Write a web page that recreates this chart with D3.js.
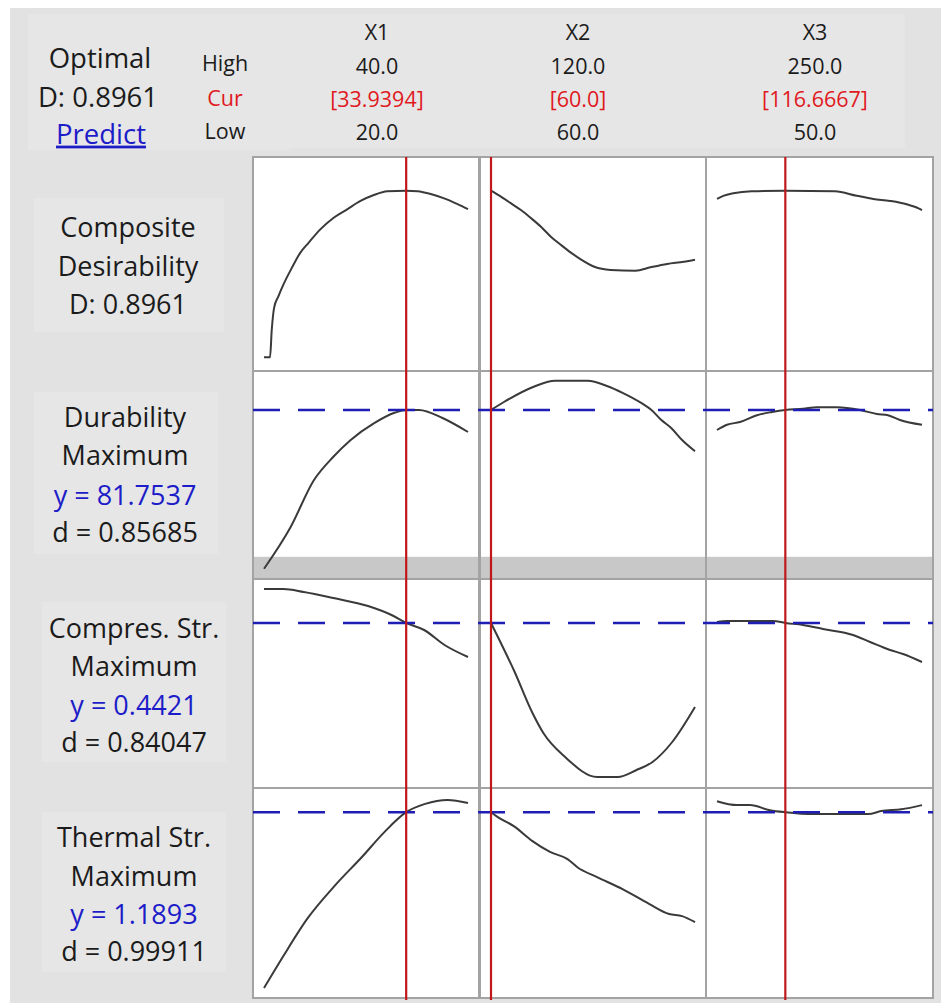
<!DOCTYPE html>
<html>
<head>
<meta charset="utf-8">
<script src="https://cdn.jsdelivr.net/npm/d3@7"></script>
<style>
  html, body { margin: 0; padding: 0; background: #ffffff; }
  svg { display: block; }
  text { font-family: "Open Sans", Lato, "Noto Sans", sans-serif; }
</style>
</head>
<body>
<div id="chart"></div>
<script>
// ---- Factors (columns) ----
const factorNames = ["X1", "X2", "X3"];
const factorLow = [20, 60, 50];
const factorHigh = [40, 120, 250];
const factorCur = [33.9394, 60, 116.6667];
const highLabels = ["40.0", "120.0", "250.0"];
const curLabels = ["[33.9394]", "[60.0]", "[116.6667]"];
const lowLabels = ["20.0", "60.0", "50.0"];

// ---- Responses (rows) ----
const responseTitles = [["Composite", "Desirability"], ["Durability"], ["Compres. Str."], ["Thermal Str."]];
const responseGoals = [null, "Maximum", "Maximum", "Maximum"];
const predictedY = [0.8961, 81.7537, 0.4421, 1.1893];
const individualD = [null, 0.85685, 0.84047, 0.99911];
const compositeD = 0.8961;
const durabilityLower = 63.4;

// Composite desirability traces
const compX1 = [[20, 0], [20.59, 0], [20.76, 0.148], [20.99, 0.266], [21.41, 0.328], [21.9, 0.391],
  [22.73, 0.481], [23.55, 0.562], [24.37, 0.616], [25.52, 0.688], [26.83, 0.751], [28.15, 0.796],
  [29.46, 0.841], [30.77, 0.873], [32.09, 0.893], [33.9394, 0.8961], [35.04, 0.893], [36.35, 0.878],
  [37.66, 0.855], [38.98, 0.824], [40, 0.797]];
const compX2 = [[60, 0.8961], [62.9, 0.864], [65.9, 0.828], [68.8, 0.792], [71.8, 0.748], [74.7, 0.702],
  [77.6, 0.649], [80.6, 0.604], [83.5, 0.563], [86.4, 0.527], [90.4, 0.487], [95.2, 0.47],
  [102.5, 0.466], [106.9, 0.484], [111.8, 0.502], [116.7, 0.514], [120, 0.525]];
const compX3 = [[50, 0.852], [56.1, 0.868], [65.9, 0.882], [83.9, 0.893], [116.6667, 0.8961],
  [165.1, 0.893], [186.3, 0.869], [202.5, 0.852], [218.8, 0.841], [235.1, 0.823], [247.1, 0.8], [250, 0.792]];

// Durability traces
const durX1 = [[20, 61.9], [22.6, 67.1], [24.9, 73.0], [26.8, 75.9], [28.5, 78.0], [30.8, 80.1],
  [32.8, 81.4], [33.9394, 81.7537], [35.2, 81.75], [37.5, 80.75], [40, 79.0]];
const durX2 = [[60, 81.7537], [63.8, 82.75], [72.2, 84.6], [78.9, 85.4], [88.5, 85.4], [94.1, 84.75],
  [98.7, 83.9], [104.3, 82.6], [107.2, 81.75], [110.1, 80.5], [113.0, 79.5], [116.2, 78.0], [120, 76.6]];
const durX3 = [[50, 79.25], [59.8, 79.9], [72.4, 80.25], [89, 81.1], [103.7, 81.5], [116.6667, 81.7537],
  [133.9, 81.9], [147.6, 82.1], [167, 82.1], [189.5, 81.75], [206, 81.25], [216.8, 81.1], [228.5, 80.5], [250, 79.9]];

// Compressive strength traces
const compStrX1 = [[20, 0.51], [21.9, 0.51], [23.9, 0.504], [26.8, 0.492], [30.2, 0.476], [32.5, 0.458],
  [33.9394, 0.4421], [35.7, 0.428], [37.7, 0.398], [40, 0.374]];
const compStrX2 = [[60, 0.4421], [62.9, 0.402], [66.7, 0.348], [72.2, 0.262], [75.4, 0.222], [81.8, 0.174],
  [91.2, 0.134], [97.3, 0.134], [102.8, 0.148], [107.5, 0.164], [113.3, 0.204], [120, 0.274]];
const compStrX3 = [[50, 0.444], [59.8, 0.446], [104.6, 0.446], [116.6667, 0.4421], [133.9, 0.438],
  [153.4, 0.43], [182.7, 0.418], [199.3, 0.404], [218.8, 0.388], [231.5, 0.38], [250, 0.364]];

// Thermal strength traces
const thermX1 = [[20, 0.603], [21.9, 0.71], [24.3, 0.837], [26.9, 0.943], [29.6, 1.04], [31.8, 1.123],
  [33.9394, 1.1893], [35.8, 1.217], [38.0, 1.23], [40, 1.22]];
const thermX2 = [[60, 1.1893], [62, 1.173], [66.7, 1.143], [72.2, 1.093], [77.5, 1.056], [82.5, 1.033],
  [85.4, 1.006], [91.2, 0.973], [98.7, 0.933], [106.6, 0.883], [112.4, 0.85], [116.2, 0.843], [120, 0.823]];
const thermX3 = [[50, 1.226], [69.5, 1.213], [82.2, 1.213], [101.7, 1.196], [116.6667, 1.1893],
  [144.9, 1.183], [197.6, 1.183], [210.2, 1.193], [229.8, 1.199], [250, 1.213]];

const traces = [
  [compX1, compX2, compX3],
  [durX1, durX2, durX3],
  [compStrX1, compStrX2, compStrX3],
  [thermX1, thermX2, thermX3]
];
const yDomains = [[0, 1], [61, 86], [0.1, 0.55], [0.6, 1.25]];

// ---- Layout ----
const W = 941, H = 1003;
const cells = [{x0: 253, x1: 479}, {x0: 480, x1: 706}, {x0: 706, x1: 933}];
const rows = [
  {y0: 157, y1: 371, r: [357.3, 171.4]},
  {y0: 371, y1: 579, r: [576, 376]},
  {y0: 579, y1: 788, r: [794, 569]},
  {y0: 788, y1: 998, r: [989, 794]}
];
const inset = 11;

const svg = d3.select("#chart").append("svg").attr("width", W).attr("height", H);

// panel background and the faint boxes behind the text blocks
svg.append("rect").attr("x", 10).attr("y", 8).attr("width", W - 10).attr("height", H - 8).attr("fill", "#e2e2e2");
const softBoxes = [
  [28, 14, 262, 136], [287, 14, 618, 134],
  [34, 198, 190, 134], [34, 392, 184, 162], [42, 602, 184, 160], [42, 812, 184, 160]
];
softBoxes.forEach(b => svg.append("rect").attr("x", b[0]).attr("y", b[1]).attr("width", b[2]).attr("height", b[3])
  .attr("fill", "#e6e6e6"));

const xScales = cells.map((c, i) => d3.scaleLinear().domain([factorLow[i], factorHigh[i]]).range([c.x0 + inset, c.x1 - inset]));
const yScales = rows.map((r, i) => d3.scaleLinear().domain(yDomains[i]).range(r.r));

const black = "#1b1b1b", red = "#e0191e", blue = "#1c1cc8";

// ---- Header ----
const hdr = svg.append("g");
hdr.append("text").attr("x", 100).attr("y", 58).attr("dy", "0.35em").attr("text-anchor", "middle")
  .attr("font-size", 27.5).attr("fill", black).text("Optimal");
hdr.append("text").attr("x", 98).attr("y", 97).attr("dy", "0.35em").attr("text-anchor", "middle")
  .attr("font-size", 27.5).attr("fill", black).text("D: " + compositeD.toFixed(4));
hdr.append("text").attr("x", 101).attr("y", 134).attr("dy", "0.35em").attr("text-anchor", "middle")
  .attr("font-size", 27.5).attr("fill", blue).attr("text-decoration", "underline").text("Predict");

const rowLabelY = [63, 98, 131];
["High", "Cur", "Low"].forEach((t, i) => {
  hdr.append("text").attr("x", 225).attr("y", rowLabelY[i]).attr("dy", "0.35em").attr("text-anchor", "middle")
    .attr("font-size", 21.5).attr("fill", i === 1 ? red : black).text(t);
});

const colTextX = [377, 578, 815];
factorNames.forEach((f, i) => {
  const g = hdr.append("g");
  const lines = [[f, black], [highLabels[i], black], [curLabels[i], red], [lowLabels[i], black]];
  const ys = [32, 66, 99, 132];
  lines.forEach((l, j) => {
    g.append("text").attr("x", colTextX[i]).attr("y", ys[j]).attr("dy", "0.35em").attr("text-anchor", "middle")
      .attr("font-size", 21.5).attr("fill", l[1]).text(l[0]);
  });
});

// ---- Row labels ----
const labelCenters = [[228, 267, 305], [418, 456, 496, 533], [629, 667, 706, 743], [838, 877, 915, 952]];
const labelX = [128, 125, 134, 134];
responseTitles.forEach((title, i) => {
  const lines = [];
  title.forEach(t => lines.push([t, black]));
  if (i === 0) {
    lines.push(["D: " + compositeD.toFixed(4), black]);
  } else {
    lines.push([responseGoals[i], black]);
    lines.push(["y = " + predictedY[i], blue]);
    lines.push(["d = " + individualD[i], black]);
  }
  lines.forEach((l, j) => {
    svg.append("text").attr("x", labelX[i]).attr("y", labelCenters[i][j]).attr("dy", "0.35em").attr("text-anchor", "middle")
      .attr("font-size", 27).attr("fill", l[1]).text(l[0]);
  });
});

// ---- Cells ----
rows.forEach(r => {
  cells.forEach(c => {
    svg.append("rect").attr("x", c.x0).attr("y", r.y0).attr("width", c.x1 - c.x0).attr("height", r.y1 - r.y0)
      .attr("fill", "#ffffff");
  });
});

// shaded zone below the durability lower bound
cells.forEach(c => {
  const yb = yScales[1](durabilityLower);
  svg.append("rect").attr("x", c.x0).attr("y", yb).attr("width", c.x1 - c.x0).attr("height", rows[1].y1 - yb)
    .attr("fill", "#c8c8c8");
});

// cell borders
rows.forEach(r => {
  cells.forEach(c => {
    svg.append("rect").attr("x", c.x0).attr("y", r.y0).attr("width", c.x1 - c.x0).attr("height", r.y1 - r.y0)
      .attr("fill", "none").attr("stroke", "#a3a3a3").attr("stroke-width", 2);
  });
});

// response traces
rows.forEach((r, ri) => {
  cells.forEach((c, ci) => {
    const line = d3.line()
      .x(d => xScales[ci](d[0]))
      .y(d => yScales[ri](d[1]))
      .curve(d3.curveMonotoneX);
    svg.append("path").datum(traces[ri][ci]).attr("d", line)
      .attr("fill", "none").attr("stroke", "#3a3a3a").attr("stroke-width", 2);
  });
});

// predicted response reference lines (dashed)
rows.forEach((r, ri) => {
  if (ri === 0) return;
  const y = yScales[ri](predictedY[ri]);
  svg.append("line").attr("x1", cells[0].x0).attr("x2", cells[2].x1).attr("y1", y).attr("y2", y)
    .attr("stroke", "#1e1eb4").attr("stroke-width", 2.6).attr("stroke-dasharray", "27,18");
});

// current factor settings (vertical red lines)
factorCur.forEach((v, i) => {
  const x = xScales[i](v);
  svg.append("line").attr("x1", x).attr("x2", x).attr("y1", rows[0].y0).attr("y2", 1000)
    .attr("stroke", "#c01818").attr("stroke-width", 2.2);
});
</script>
</body>
</html>
